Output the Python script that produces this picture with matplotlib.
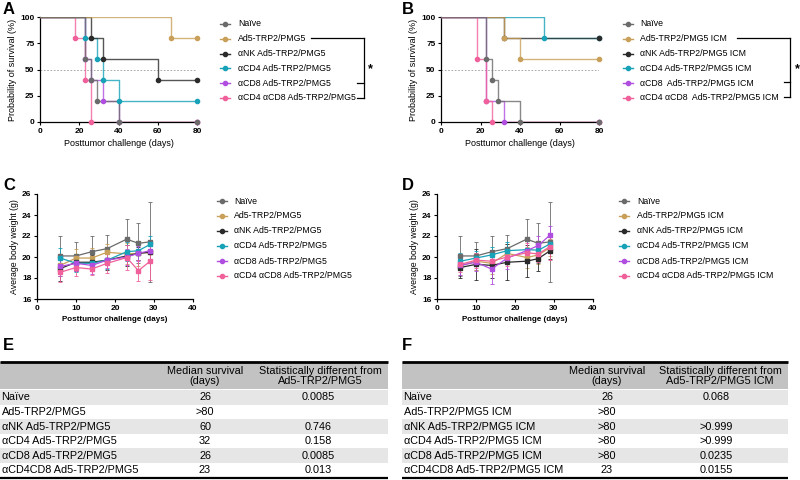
import matplotlib
matplotlib.use("Agg")
import matplotlib.pyplot as plt
from matplotlib.lines import Line2D
from matplotlib.patches import Rectangle

plt.rcParams['font.family'] = ['Liberation Sans', 'DejaVu Sans']

W, H = 800, 480

# --- colours per group (same order everywhere) ---
colors = ["#6b6b6b", "#c9a05a", "#2b2b2b", "#17a2b8", "#b04ee0", "#f0609a"]

labels_A = ["Naïve", "Ad5-TRP2/PMG5", "αNK Ad5-TRP2/PMG5", "αCD4 Ad5-TRP2/PMG5",
            "αCD8 Ad5-TRP2/PMG5", "αCD4 αCD8 Ad5-TRP2/PMG5"]
labels_B = ["Naïve", "Ad5-TRP2/PMG5 ICM", "αNK Ad5-TRP2/PMG5 ICM", "αCD4 Ad5-TRP2/PMG5 ICM",
            "αCD8  Ad5-TRP2/PMG5 ICM", "αCD4 αCD8  Ad5-TRP2/PMG5 ICM"]
labels_D = ["Naïve", "Ad5-TRP2/PMG5 ICM", "αNK Ad5-TRP2/PMG5 ICM", "αCD4 Ad5-TRP2/PMG5 ICM",
            "αCD8 Ad5-TRP2/PMG5 ICM", "αCD4 αCD8 Ad5-TRP2/PMG5 ICM"]

# --- survival: event days and survival (%) after each event ---
a_times = [[23, 26, 29, 40], [67], [26, 32, 60], [23, 29, 32, 40], [23, 26, 32, 40], [18, 23, 26]]
a_surv = [[60, 40, 20, 0], [80], [80, 60, 40], [80, 60, 40, 20], [60, 40, 20, 0], [80, 40, 0]]
b_times = [[23, 26, 29, 40], [32, 40], [32], [52], [23, 32], [18, 23, 26]]
b_surv = [[60, 40, 20, 0], [80, 60], [80], [80], [20, 0], [60, 20, 0]]
end_day = 80

# --- body weight (mean, SD) ---
days = [6, 10, 14, 18, 23, 26, 29]
c_mean = [
    [20.1, 20.1, 20.5, 20.8, 21.7, 21.3, 21.45],
    [19.2, 19.9, 19.9, 20.45, 20.3, 20.35, 20.45],
    [18.9, 19.5, 19.5, 19.7, 20.1, 20.35, 20.45],
    [19.9, 19.4, 19.4, 19.7, 20.5, 20.6, 21.2],
    [19.1, 19.4, 19.2, 19.7, 20.0, 20.35, 20.6],
    [18.55, 19.0, 18.85, 19.4, 19.95, 18.7, 19.6],
]
c_sd = [
    [1.9, 1.3, 1.5, 1.3, 1.9, 1.9, 3.8],
    [1.0, 0.9, 1.0, 0.8, 1.0, 1.2, 1.0],
    [1.2, 0.8, 0.7, 0.9, 1.0, 0.6, 0.9],
    [1.0, 0.8, 0.7, 0.8, 0.9, 0.9, 0.8],
    [0.9, 0.7, 0.8, 0.7, 0.8, 0.7, 0.8],
    [0.9, 0.8, 0.6, 0.9, 1.2, 1.0, 1.8],
]
d_mean = [
    [20.1, 20.1, 20.5, 20.8, 21.7, 21.3, 21.45],
    [19.15, 19.6, 19.4, 20.35, 19.95, 20.2, 20.9],
    [19.0, 19.3, 19.2, 19.5, 19.6, 19.85, 20.6],
    [19.6, 19.9, 20.2, 20.6, 20.7, 20.65, 21.25],
    [19.2, 19.5, 18.85, 19.9, 20.6, 21.1, 22.1],
    [19.3, 19.7, 19.6, 20.0, 20.4, 20.3, 21.0],
]
d_sd = [
    [1.9, 1.3, 1.5, 1.3, 1.9, 1.9, 3.8],
    [0.9, 0.8, 1.0, 0.9, 1.0, 0.9, 0.8],
    [1.0, 1.5, 1.2, 1.7, 1.5, 1.2, 0.8],
    [0.8, 0.7, 0.8, 0.8, 1.0, 0.8, 0.9],
    [0.9, 0.8, 1.45, 1.0, 1.0, 0.9, 0.9],
    [0.7, 0.7, 0.8, 0.9, 0.9, 0.8, 1.3],
]

# --- tables ---
e_rows = ["Naïve", "Ad5-TRP2/PMG5", "αNK Ad5-TRP2/PMG5", "αCD4 Ad5-TRP2/PMG5",
          "αCD8 Ad5-TRP2/PMG5", "αCD4CD8 Ad5-TRP2/PMG5"]
e_median = ["26", ">80", "60", "32", "26", "23"]
e_p = ["0.0085", "", "0.746", "0.158", "0.0085", "0.013"]
f_rows = ["Naïve", "Ad5-TRP2/PMG5 ICM", "αNK Ad5-TRP2/PMG5 ICM", "αCD4 Ad5-TRP2/PMG5 ICM",
          "αCD8 Ad5-TRP2/PMG5 ICM", "αCD4CD8 Ad5-TRP2/PMG5 ICM"]
f_median = ["26", ">80", ">80", ">80", ">80", "23"]
f_p = ["0.068", "", ">0.999", ">0.999", "0.0235", "0.0155"]


def rect(l, t, r, b):
    return [l / W, 1 - b / H, (r - l) / W, (b - t) / H]


def fx(x):
    return x / W


def fy(y):
    return 1 - y / H


def style_axes(ax):
    for s in ["top", "right"]:
        ax.spines[s].set_visible(False)
    for s in ["left", "bottom"]:
        ax.spines[s].set_linewidth(0.9)
    ax.tick_params(length=2.5, width=0.8, labelsize=6, pad=1.5)
    for lab in ax.get_xticklabels() + ax.get_yticklabels():
        lab.set_fontweight("bold")


def survival(ax, times, surv, order):
    for i in order:
        xs = [0] + times[i] + [end_day]
        ys = [100] + surv[i] + [surv[i][-1]]
        ax.step(xs, ys, where="post", color=colors[i], lw=1.0, alpha=0.8, zorder=2 + order.index(i))
        ax.plot(times[i] + [end_day], surv[i] + [surv[i][-1]], "o", color=colors[i], ms=3,
                zorder=10 + order.index(i), clip_on=False)
    ax.axhline(50, color="#9a9a9a", lw=0.6, ls=(0, (2, 2)), zorder=1)
    ax.set_xlim(0, 80)
    ax.set_ylim(0, 100)
    ax.set_xticks([0, 20, 40, 60, 80])
    ax.set_yticks([0, 25, 50, 75, 100])
    ax.set_xlabel("Posttumor challenge (days)", fontsize=6.5, labelpad=3)
    ax.set_ylabel("Probability of survival (%)", fontsize=6.5, labelpad=2)
    style_axes(ax)


def weight(ax, mean, sd):
    for i in range(len(mean)):
        ax.errorbar(days, mean[i], yerr=sd[i], color=colors[i], lw=0.9, ms=3, marker="s",
                    elinewidth=0.6, capsize=1.5, capthick=0.6, ecolor=colors[i])
    ax.set_xlim(0, 40)
    ax.set_ylim(16, 26)
    ax.set_xticks([0, 10, 20, 30, 40])
    ax.set_yticks([16, 18, 20, 22, 24, 26])
    ax.set_xlabel("Posttumor challenge (days)", fontsize=5.8, fontweight="bold", labelpad=3)
    ax.set_ylabel("Average body weight (g)", fontsize=6.3, labelpad=2)
    style_axes(ax)


def legend(fig, labels, x_handle, x_text, y0, step):
    for i, lab in enumerate(labels):
        y = y0 + i * step
        fig.add_artist(Line2D([fx(x_handle - 5), fx(x_handle + 5)], [fy(y), fy(y)],
                              color=colors[i], lw=1.0))
        fig.add_artist(Line2D([fx(x_handle)], [fy(y)], marker="o", ms=3, color=colors[i]))
        fig.text(fx(x_text), fy(y), lab, fontsize=6.3, va="center", ha="left")


def bracket(fig, x_start, x_v, x_short, y_top, y_mid, y_bot, x_star, y_star):
    segs = [([x_start, x_v], [y_top, y_top]), ([x_v, x_v], [y_top, y_bot]),
            ([x_short, x_v], [y_bot, y_bot]), ([x_short, x_v], [y_mid, y_mid])]
    for xs, ys in segs:
        fig.add_artist(Line2D([fx(v) for v in xs], [fy(v) for v in ys], color="black", lw=0.9))
    fig.text(fx(x_star), fy(y_star), "*", fontsize=9, fontweight="bold", ha="center", va="center")


def table(ax, x0, x1, rows, med, pv, ref, c2, c3, c3v):
    ax.add_patch(Rectangle((x0, 362), x1 - x0, 27, color="#c2c2c2", lw=0))
    row_top, rh = 390, 14.6
    for i, r in enumerate(rows):
        y = row_top + i * rh
        if i % 2 == 0:
            ax.add_patch(Rectangle((x0, y), x1 - x0, rh, color="#e6e6e6", lw=0))
        yc = y + rh / 2
        ax.text(x0 + 1.5, yc, r, fontsize=7.8, va="center", ha="left")
        ax.text(c2, yc, med[i], fontsize=7.8, va="center", ha="center")
        ax.text(c3v, yc, pv[i], fontsize=7.8, va="center", ha="center")
    ax.plot([x0, x1], [362, 362], color="black", lw=2.0, solid_capstyle="butt")
    ax.plot([x0, x1], [row_top + 6 * rh + 0.6, row_top + 6 * rh + 0.6], color="black", lw=1.6,
            solid_capstyle="butt")
    ax.text(c2, 376, "Median survival\n(days)", fontsize=7.8, ha="center", va="center",
            linespacing=0.95)
    ax.text(c3, 376, "Statistically different from\n" + ref, fontsize=7.8, ha="center",
            va="center", linespacing=0.95)


fig = plt.figure(figsize=(8, 4.8), dpi=100)

# tables live on a pixel-coordinate overlay
axt = fig.add_axes([0, 0, 1, 1])
axt.set_xlim(0, W)
axt.set_ylim(H, 0)
axt.axis("off")
table(axt, 0, 388, e_rows, e_median, e_p, "Ad5-TRP2/PMG5", 205, 320, 318)
table(axt, 402, 788, f_rows, f_median, f_p, "Ad5-TRP2/PMG5 ICM", 607, 720, 716)

axA = fig.add_axes(rect(40, 17, 197, 122))
survival(axA, a_times, a_surv, [3, 4, 5, 2, 1, 0])
axB = fig.add_axes(rect(441, 17, 599, 122))
survival(axB, b_times, b_surv, [3, 2, 1, 4, 5, 0])
axC = fig.add_axes(rect(37, 194, 193, 299))
weight(axC, c_mean, c_sd)
axD = fig.add_axes(rect(437, 194, 593, 299))
weight(axD, d_mean, d_sd)

legend(fig, labels_A, 225, 238, 24, 14.8)
legend(fig, labels_B, 628, 640, 24, 14.8)
legend(fig, labels_A, 222, 234, 201, 15)
legend(fig, labels_D, 624, 637, 201, 15)

bracket(fig, 311, 364, 357, 38, 83, 98, 370, 69)
bracket(fig, 737, 790, 784, 38, 82, 97, 797, 69)

for letter, x, y in [("A", 3, 9), ("B", 402, 9), ("C", 3, 185), ("D", 402, 185),
                     ("E", 3, 345), ("F", 402, 345)]:
    fig.text(fx(x), fy(y), letter, fontsize=12, fontweight="bold", va="center", ha="left")

fig.savefig("out.png", dpi=100)
